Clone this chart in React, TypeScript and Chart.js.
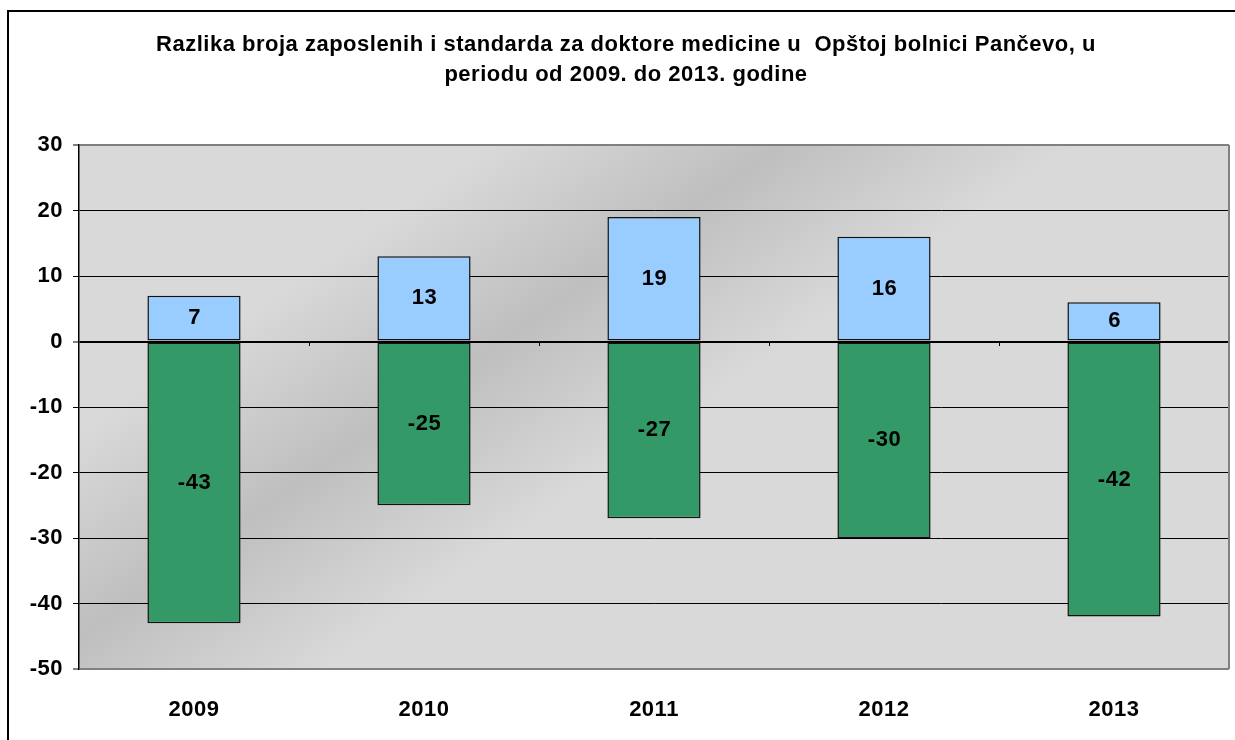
import React, { useEffect, useRef } from 'react';
import { Chart, registerables } from 'chart.js';

Chart.register(...registerables);

const categories = ['2009', '2010', '2011', '2012', '2013'];
const positiveValues = [7, 13, 19, 16, 6];
const negativeValues = [-43, -25, -27, -30, -42];
const yTickValues = [-50, -40, -30, -20, -10, 0, 10, 20, 30];
const titleLines = [
  'Razlika broja zaposlenih i standarda za doktore medicine u  Opštoj bolnici Pančevo, u',
  'periodu od 2009. do 2013. godine',
];

const FONT = "Arial, 'Liberation Sans', sans-serif";
const FONT_SIZE = 22;
const Y_MIN = yTickValues[0];
const Y_MAX = yTickValues[yTickValues.length - 1];
const Y_STEP = yTickValues[1] - yTickValues[0];

const framePlugin = {
  id: 'framePlugin',
  beforeDraw(chart: any) {
    const ctx = chart.ctx as CanvasRenderingContext2D;
    (ctx as any).letterSpacing = '0.5px';
    const { left, top, right, bottom } = chart.chartArea;
    const w = right - left;
    const h = bottom - top;
    const px = left + 0.216 * w;
    const py = top + 0.607 * h;
    const nx = 0.573;
    const ny = 0.819;
    const d = 420;
    const g = ctx.createLinearGradient(px - nx * d, py - ny * d, px + nx * d, py + ny * d);
    g.addColorStop(0, '#d9d9d9');
    g.addColorStop(0.3, '#d9d9d9');
    g.addColorStop(0.5, '#bfbfbf');
    g.addColorStop(0.7, '#d9d9d9');
    g.addColorStop(1, '#d9d9d9');
    ctx.save();
    ctx.fillStyle = g;
    ctx.fillRect(left, top, w, h);
    ctx.strokeStyle = '#000';
    ctx.lineWidth = 2;
    ctx.strokeRect(8, 11, 1400, 1000);
    ctx.restore();
  },
  afterDatasetsDraw(chart: any) {
    const ctx = chart.ctx as CanvasRenderingContext2D;
    const { top, right, bottom } = chart.chartArea;
    const xs = chart.scales.x;
    const ys = chart.scales.y;
    ctx.save();
    ctx.strokeStyle = '#808080';
    ctx.lineWidth = 2;
    ctx.beginPath();
    ctx.moveTo(right, top);
    ctx.lineTo(right, bottom);
    ctx.stroke();
    const y0 = ys.getPixelForValue(0);
    ctx.fillStyle = '#000';
    for (let i = 1; i < categories.length; i++) {
      const bx = (xs.getPixelForTick(i - 1) + xs.getPixelForTick(i)) / 2;
      ctx.fillRect(Math.round(bx), Math.round(y0) + 1, 1, 3);
    }
    ctx.font = `bold ${FONT_SIZE}px ${FONT}`;
    ctx.textAlign = 'center';
    ctx.textBaseline = 'middle';
    ctx.fillStyle = '#000';
    chart.data.datasets.forEach((ds: any, i: number) => {
      const meta = chart.getDatasetMeta(i);
      meta.data.forEach((bar: any, j: number) => {
        const p = bar.getProps(['x', 'y', 'base'], true);
        ctx.fillText(String(ds.data[j]), p.x + 0.5, (p.y + p.base) / 2);
      });
    });
    ctx.restore();
  },
};

export default function App() {
  const canvasRef = useRef<HTMLCanvasElement | null>(null);

  useEffect(() => {
    const canvas = canvasRef.current;
    if (!canvas) return;
    const tickFont = { family: FONT, size: FONT_SIZE, weight: 'bold' as const };
    const barStyle = {
      borderColor: '#111',
      borderWidth: 1.5,
      borderSkipped: false,
      barPercentage: 0.405,
      categoryPercentage: 1,
    };
    const chart = new Chart(canvas, {
      type: 'bar',
      data: {
        labels: categories,
        datasets: [
          { label: 'Razlika', data: positiveValues, backgroundColor: '#99ccff', ...barStyle },
          { label: 'Razlika -', data: negativeValues, backgroundColor: '#339966', ...barStyle },
        ],
      },
      options: {
        animation: false,
        responsive: false,
        devicePixelRatio: 1,
        layout: { padding: { left: 23, right: 6, top: 0, bottom: 0 } },
        plugins: {
          legend: { display: false },
          tooltip: { enabled: false },
          title: {
            display: true,
            text: titleLines,
            color: '#000',
            font: { family: FONT, size: FONT_SIZE, weight: 'bold', lineHeight: '30px' },
            padding: { top: 30, bottom: 55 },
          },
        },
        scales: {
          x: {
            stacked: true,
            grid: { display: false, drawTicks: false },
            border: { display: false },
            ticks: { color: '#000', font: tickFont, padding: 28 },
            afterFit(s: any) {
              s.height = 71;
            },
          },
          y: {
            stacked: true,
            min: Y_MIN,
            max: Y_MAX,
            ticks: { stepSize: Y_STEP, color: '#000', font: tickFont, padding: 10 },
            grid: {
              color: (c: any) =>
                c.tick && (c.tick.value === Y_MIN || c.tick.value === Y_MAX) ? '#808080' : '#000',
              lineWidth: (c: any) =>
                c.tick && (c.tick.value === 0 || c.tick.value === Y_MIN || c.tick.value === Y_MAX) ? 2 : 1,
              tickLength: 6,
              tickColor: '#000',
              tickWidth: 1,
            },
            border: { display: true, color: '#000', width: 1.5 },
            afterFit(s: any) {
              s.width = 56;
            },
          },
        },
      },
      plugins: [framePlugin],
    } as any);
    return () => chart.destroy();
  }, []);

  return (
    <div style={{ position: 'fixed', left: 0, top: 0, width: 1235, height: 740, overflow: 'hidden', background: '#fff' }}>
      <canvas ref={canvasRef} width={1235} height={740} style={{ display: 'block' }} />
    </div>
  );
}
